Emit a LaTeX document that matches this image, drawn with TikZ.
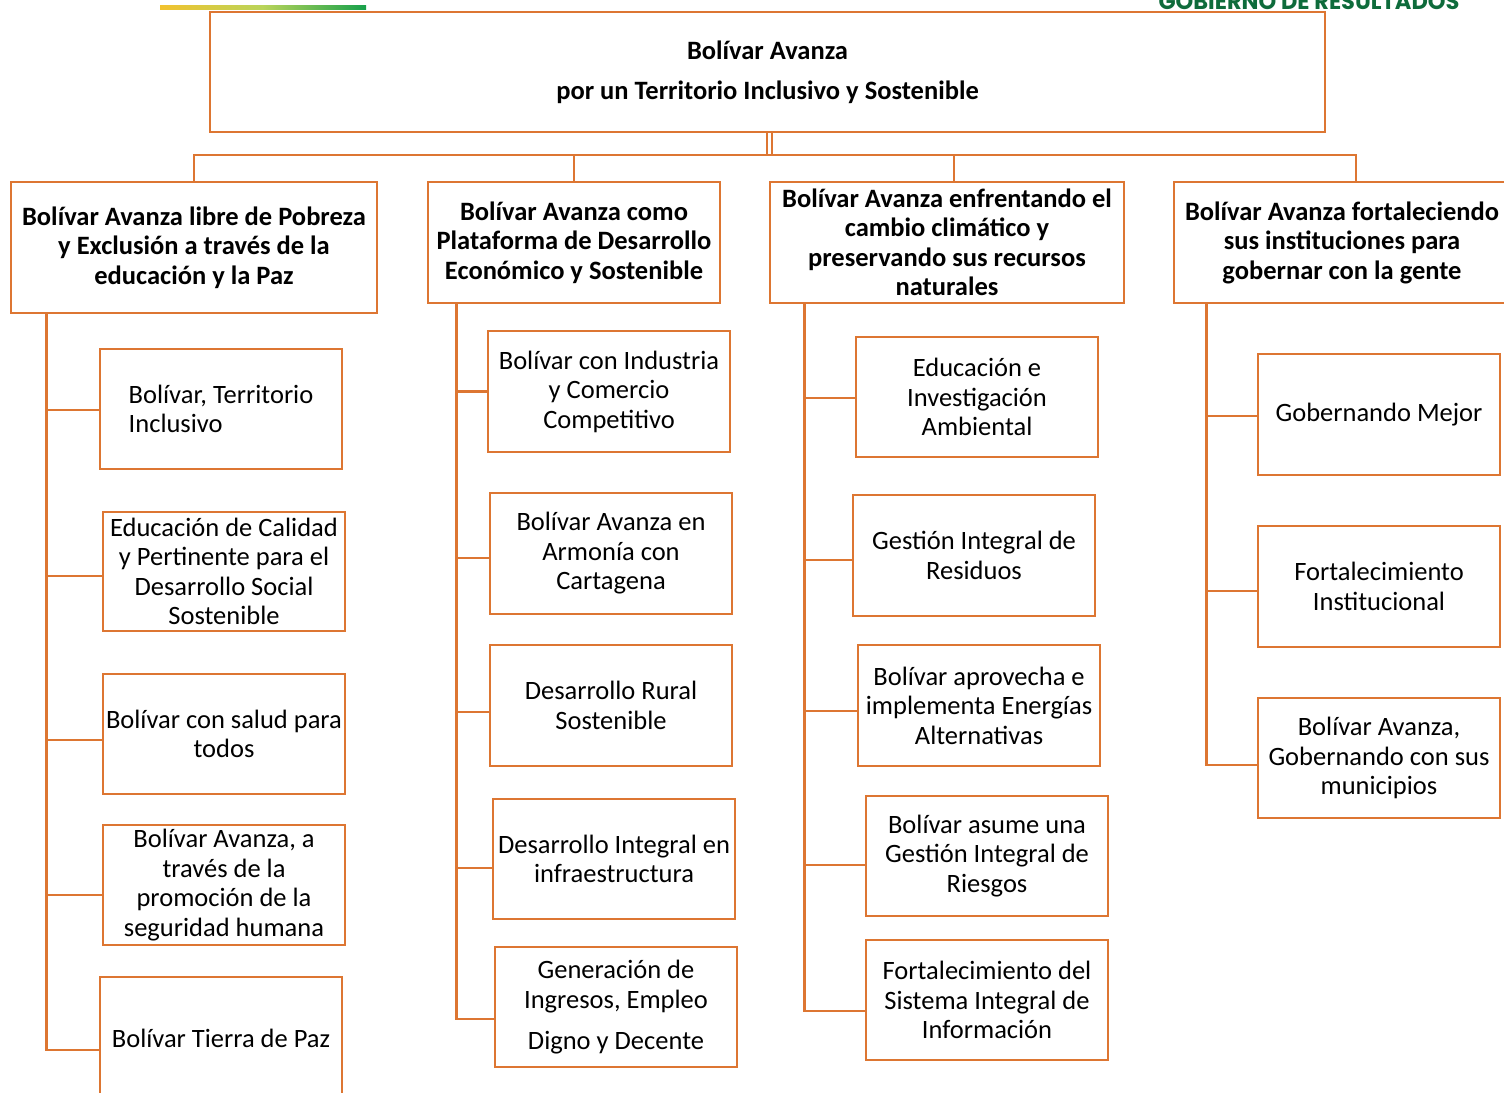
\documentclass[tikz,border=0pt]{standalone}
\usepackage{fontspec}
\setmainfont{Carlito}
\newfontfamily\gobfont{Poppins}
\definecolor{orng}{HTML}{DD7632}
\definecolor{gobgreen}{HTML}{0E6B3B}
\definecolor{gradyel}{HTML}{F2C22E}
\definecolor{gradmid}{HTML}{B9D45A}
\definecolor{gradgrn}{HTML}{16A04B}
\newcommand\mybody{\fontsize{26.5}{29.5}\selectfont}
\begin{document}
\begin{tikzpicture}[x=1pt,y=-1pt,
  box/.style={draw=orng, line width=2.9pt, inner sep=0pt, align=center, font=\mybody, text=black},
  hdr/.style={box, font=\mybody\bfseries},
  link/.style={draw=orng, line width=2.9pt}]
\useasboundingbox (0,0) rectangle (1504,1092);
\clip (0,0) rectangle (1504,1092);
\fill[white] (0,0) rectangle (1504,1092);

% header decorations
\shade[left color=gradyel, right color=gradgrn, middle color=gradmid] (160,5.5) rectangle (366,9.5);
\node[anchor=base, font=\gobfont\bfseries\fontsize{22.5}{22.5}\selectfont, text=gobgreen, inner sep=0pt] (gob) at (1309,9.5) {GOBIERNO DE RESULTADOS};

% top box
\node[hdr, minimum width=1115pt, minimum height=120pt] (top) at (767.5,72)
  {Bolívar Avanza\\[10.5pt]por un Territorio Inclusivo y Sostenible};

% headers
\node[hdr, minimum width=366pt, minimum height=131pt] (h1) at (194,247.5)
  {Bolívar Avanza libre de Pobreza\\y Exclusión a través de la\\educación y la Paz};
\node[hdr, minimum width=292pt, minimum height=121pt] (h2) at (574,242.5)
  {Bolívar Avanza como\\Plataforma de Desarrollo\\Económico y Sostenible};
\node[hdr, minimum width=354pt, minimum height=121pt] (h3) at (947,242.5)
  {Bolívar Avanza enfrentando el\\cambio climático y\\preservando sus recursos\\naturales};
\node[hdr, minimum width=336pt, minimum height=121pt] (h4) at (1342,242.5)
  {Bolívar Avanza fortaleciendo\\sus instituciones para\\gobernar con la gente};

% column 1
\node[box, minimum width=242pt, minimum height=120pt, align=left] (c1a) at (221,409) {Bolívar, Territorio\\Inclusivo};
\node[box, minimum width=242pt, minimum height=119pt] (c1b) at (224,571.5) {Educación de Calidad\\y Pertinente para el\\Desarrollo Social\\Sostenible};
\node[box, minimum width=242pt, minimum height=120pt] (c1c) at (224,734) {Bolívar con salud para\\todos};
\node[box, minimum width=242pt, minimum height=120pt] (c1d) at (224,885) {Bolívar Avanza, a\\través de la\\promoción de la\\seguridad humana};
\node[box, minimum width=242pt, minimum height=122pt] (c1e) at (221,1038) {Bolívar Tierra de Paz};

% column 2
\node[box, minimum width=242pt, minimum height=121pt] (c2a) at (609,391.5) {Bolívar con Industria\\y Comercio\\Competitivo};
\node[box, minimum width=242pt, minimum height=121pt] (c2b) at (611,553.5) {Bolívar Avanza en\\Armonía con\\Cartagena};
\node[box, minimum width=242pt, minimum height=121pt] (c2c) at (611,705.5) {Desarrollo Rural\\Sostenible};
\node[box, minimum width=242pt, minimum height=120pt] (c2d) at (614,859) {Desarrollo Integral en\\infraestructura};
\node[box, minimum width=242pt, minimum height=120pt] (c2e) at (616,1007) {Generación de\\Ingresos, Empleo\\[11.5pt]Digno y Decente};

% column 3
\node[box, minimum width=242pt, minimum height=120pt] (c3a) at (977,397) {Educación e\\Investigación\\Ambiental};
\node[box, minimum width=242pt, minimum height=121pt] (c3b) at (974,555.5) {Gestión Integral de\\Residuos};
\node[box, minimum width=242pt, minimum height=121pt] (c3c) at (979,705.5) {Bolívar aprovecha e\\implementa Energías\\Alternativas};
\node[box, minimum width=242pt, minimum height=120pt] (c3d) at (987,856) {Bolívar asume una\\Gestión Integral de\\Riesgos};
\node[box, minimum width=242pt, minimum height=120pt] (c3e) at (987,1000) {Fortalecimiento del\\Sistema Integral de\\Información};

% column 4
\node[box, minimum width=242pt, minimum height=121pt] (c4a) at (1379,414.5) {Gobernando Mejor};
\node[box, minimum width=242pt, minimum height=121pt] (c4b) at (1379,586.5) {Fortalecimiento\\Institucional};
\node[box, minimum width=242pt, minimum height=120pt] (c4c) at (1379,758) {Bolívar Avanza,\\Gobernando con sus\\municipios};

% top connectors
\coordinate (busL) at (194,155);
\coordinate (busR) at (1356,155);
\draw[link] ([xshift=-0.5pt]top.south) -- ([xshift=-0.5pt]top.south |- busL);
\draw[link] ([xshift=4.5pt]top.south) -- ([xshift=4.5pt]top.south |- busL);
\draw[link] (h1.north) -- (busL) -- (busR) -- ([xshift=14pt]h4.north);
\draw[link] (h2.north) -- (h2.north |- busL);
\draw[link] ([xshift=7pt]h3.north) -- ([xshift=7pt]h3.north |- busL);

% spines
\coordinate (s1) at ([xshift=37pt]h1.south west);
\coordinate (s2) at ([xshift=30pt]h2.south west);
\coordinate (s3) at ([xshift=36pt]h3.south west);
\coordinate (s4) at ([xshift=34pt]h4.south west);

\draw[link] (s1) |- ([yshift=-12pt]c1e.west);
\draw[link] ([yshift=-1pt]c1a.west) -- ([yshift=-1pt]c1a.west -| s1);
\draw[link] ([yshift=-4.5pt]c1b.west) -- ([yshift=-4.5pt]c1b.west -| s1);
\draw[link] ([yshift=-6pt]c1c.west) -- ([yshift=-6pt]c1c.west -| s1);
\draw[link] ([yshift=-10pt]c1d.west) -- ([yshift=-10pt]c1d.west -| s1);

\draw[link] (s2) |- ([yshift=-12pt]c2e.west);
\draw[link] (c2a.west) -- (c2a.west -| s2);
\draw[link] ([yshift=-4.5pt]c2b.west) -- ([yshift=-4.5pt]c2b.west -| s2);
\draw[link] ([yshift=-6.5pt]c2c.west) -- ([yshift=-6.5pt]c2c.west -| s2);
\draw[link] ([yshift=-9pt]c2d.west) -- ([yshift=-9pt]c2d.west -| s2);

\draw[link] (s3) |- ([yshift=-11pt]c3e.west);
\draw[link] ([yshift=-1pt]c3a.west) -- ([yshift=-1pt]c3a.west -| s3);
\draw[link] ([yshift=-4.5pt]c3b.west) -- ([yshift=-4.5pt]c3b.west -| s3);
\draw[link] ([yshift=-5.5pt]c3c.west) -- ([yshift=-5.5pt]c3c.west -| s3);
\draw[link] ([yshift=-9pt]c3d.west) -- ([yshift=-9pt]c3d.west -| s3);

\draw[link] (s4) |- ([yshift=-7pt]c4c.west);
\draw[link] ([yshift=-1.5pt]c4a.west) -- ([yshift=-1.5pt]c4a.west -| s4);
\draw[link] ([yshift=-4.5pt]c4b.west) -- ([yshift=-4.5pt]c4b.west -| s4);
\end{tikzpicture}
\end{document}
